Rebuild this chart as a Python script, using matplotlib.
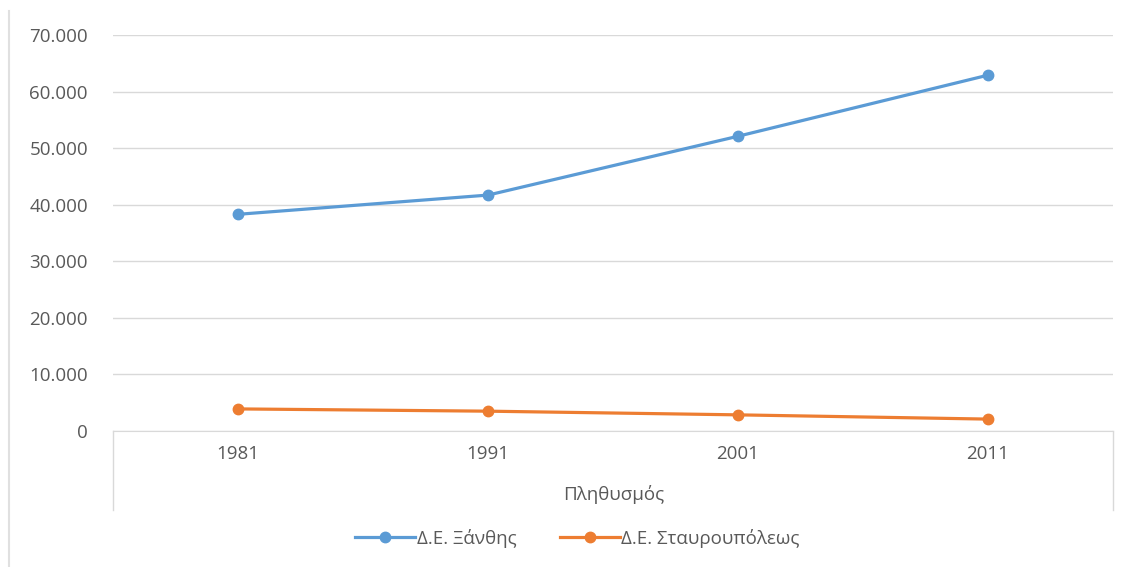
import matplotlib
matplotlib.use('Agg')
import matplotlib.pyplot as plt
from matplotlib.ticker import FuncFormatter, MultipleLocator
from matplotlib.lines import Line2D

plt.rcParams['font.family'] = ['Open Sans', 'Noto Sans', 'DejaVu Sans']

# ── Data ──────────────────────────────────────────────────────────────────────
years = ['1981', '1991', '2001', '2011']
xanthi = [38300, 41700, 52100, 62900]
stavroupoli = [3900, 3500, 2850, 2100]
series_names = ['Δ.Ε. Ξάνθης', 'Δ.Ε. Σταυρουπόλεως']
x_title = 'Πληθυσμός'

BLUE = '#5B9BD5'
ORANGE = '#ED7D31'
GRID = '#D9D9D9'
TXT = '#595959'
FS = 13.5

fig = plt.figure(figsize=(11.3, 5.67), dpi=100)
fig.patch.set_facecolor('white')
ax = fig.add_axes([0.1, 0.2399, 0.885, 0.6984])

x = range(len(years))
ax.plot(x, xanthi, color=BLUE, lw=2.3, marker='o', ms=7.5, zorder=3)
ax.plot(x, stavroupoli, color=ORANGE, lw=2.3, marker='o', ms=7.5, zorder=3)

ax.set_xlim(-0.5, len(years) - 0.5)
ax.set_ylim(0, 70000)
ax.yaxis.set_major_locator(MultipleLocator(10000))
ax.yaxis.set_major_formatter(FuncFormatter(
    lambda v, p: '0' if v == 0 else f"{int(v):,}".replace(',', '.')))
ax.set_xticks(list(x))
ax.set_xticklabels(years)

ax.grid(axis='y', color=GRID, lw=1)
ax.set_axisbelow(True)
for s in ['top', 'right', 'left']:
    ax.spines[s].set_visible(False)
ax.spines['bottom'].set_color(GRID)
ax.tick_params(axis='both', length=0, colors=TXT, labelsize=FS)
ax.tick_params(axis='y', pad=18)
ax.tick_params(axis='x', pad=10)

# category box lines below the axis
for xa in (0, 1):
    ax.plot([xa, xa], [0, -0.2], transform=ax.transAxes, color=GRID,
            lw=1, clip_on=False)

fig.text(0.543, 1 - 494 / 567, x_title, ha='center', va='center',
         color=TXT, fontsize=FS)

handles = [Line2D([], [], color=BLUE, lw=2.3, marker='o', ms=7.5),
           Line2D([], [], color=ORANGE, lw=2.3, marker='o', ms=7.5)]
fig.legend(handles, series_names, loc='center', bbox_to_anchor=(0.511, 1 - 538 / 567),
           ncol=2, frameon=False, fontsize=FS, labelcolor=TXT,
           handlelength=3.2, handletextpad=0.1, columnspacing=2.3)

# outer chart border at left
fig.add_artist(Line2D([0.008, 0.008], [0.0, 0.98], transform=fig.transFigure,
                      color='#E0E0E0', lw=1.5))

plt.savefig('out.png', dpi=100, facecolor='white')
plt.close()
